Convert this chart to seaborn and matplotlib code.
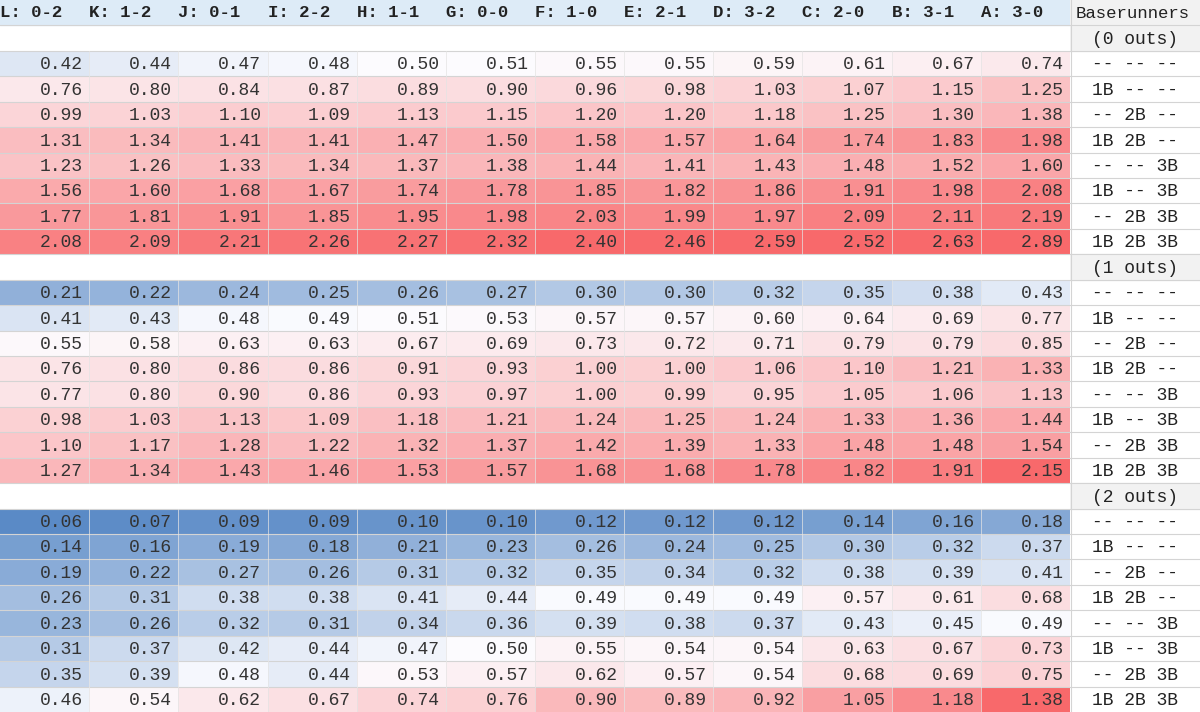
import numpy as np
import matplotlib
matplotlib.use("Agg")
import matplotlib.pyplot as plt
import seaborn as sns
from matplotlib.colors import LinearSegmentedColormap, TwoSlopeNorm

# column headers (count states)
counts = ["L: 0-2", "K: 1-2", "J: 0-1", "I: 2-2", "H: 1-1", "G: 0-0",
          "F: 1-0", "E: 2-1", "D: 3-2", "C: 2-0", "B: 3-1", "A: 3-0"]
runners = ["-- -- --", "1B -- --", "-- 2B --", "1B 2B --",
           "-- -- 3B", "1B -- 3B", "-- 2B 3B", "1B 2B 3B"]
out_labels = ["(0 outs)", "(1 outs)", "(2 outs)"]

outs0 = [
    [0.42, 0.44, 0.47, 0.48, 0.50, 0.51, 0.55, 0.55, 0.59, 0.61, 0.67, 0.74],
    [0.76, 0.80, 0.84, 0.87, 0.89, 0.90, 0.96, 0.98, 1.03, 1.07, 1.15, 1.25],
    [0.99, 1.03, 1.10, 1.09, 1.13, 1.15, 1.20, 1.20, 1.18, 1.25, 1.30, 1.38],
    [1.31, 1.34, 1.41, 1.41, 1.47, 1.50, 1.58, 1.57, 1.64, 1.74, 1.83, 1.98],
    [1.23, 1.26, 1.33, 1.34, 1.37, 1.38, 1.44, 1.41, 1.43, 1.48, 1.52, 1.60],
    [1.56, 1.60, 1.68, 1.67, 1.74, 1.78, 1.85, 1.82, 1.86, 1.91, 1.98, 2.08],
    [1.77, 1.81, 1.91, 1.85, 1.95, 1.98, 2.03, 1.99, 1.97, 2.09, 2.11, 2.19],
    [2.08, 2.09, 2.21, 2.26, 2.27, 2.32, 2.40, 2.46, 2.59, 2.52, 2.63, 2.89],
]
outs1 = [
    [0.21, 0.22, 0.24, 0.25, 0.26, 0.27, 0.30, 0.30, 0.32, 0.35, 0.38, 0.43],
    [0.41, 0.43, 0.48, 0.49, 0.51, 0.53, 0.57, 0.57, 0.60, 0.64, 0.69, 0.77],
    [0.55, 0.58, 0.63, 0.63, 0.67, 0.69, 0.73, 0.72, 0.71, 0.79, 0.79, 0.85],
    [0.76, 0.80, 0.86, 0.86, 0.91, 0.93, 1.00, 1.00, 1.06, 1.10, 1.21, 1.33],
    [0.77, 0.80, 0.90, 0.86, 0.93, 0.97, 1.00, 0.99, 0.95, 1.05, 1.06, 1.13],
    [0.98, 1.03, 1.13, 1.09, 1.18, 1.21, 1.24, 1.25, 1.24, 1.33, 1.36, 1.44],
    [1.10, 1.17, 1.28, 1.22, 1.32, 1.37, 1.42, 1.39, 1.33, 1.48, 1.48, 1.54],
    [1.27, 1.34, 1.43, 1.46, 1.53, 1.57, 1.68, 1.68, 1.78, 1.82, 1.91, 2.15],
]
outs2 = [
    [0.06, 0.07, 0.09, 0.09, 0.10, 0.10, 0.12, 0.12, 0.12, 0.14, 0.16, 0.18],
    [0.14, 0.16, 0.19, 0.18, 0.21, 0.23, 0.26, 0.24, 0.25, 0.30, 0.32, 0.37],
    [0.19, 0.22, 0.27, 0.26, 0.31, 0.32, 0.35, 0.34, 0.32, 0.38, 0.39, 0.41],
    [0.26, 0.31, 0.38, 0.38, 0.41, 0.44, 0.49, 0.49, 0.49, 0.57, 0.61, 0.68],
    [0.23, 0.26, 0.32, 0.31, 0.34, 0.36, 0.39, 0.38, 0.37, 0.43, 0.45, 0.49],
    [0.31, 0.37, 0.42, 0.44, 0.47, 0.50, 0.55, 0.54, 0.54, 0.63, 0.67, 0.73],
    [0.35, 0.39, 0.48, 0.44, 0.53, 0.57, 0.62, 0.57, 0.54, 0.68, 0.69, 0.75],
    [0.46, 0.54, 0.62, 0.67, 0.74, 0.76, 0.90, 0.89, 0.92, 1.05, 1.18, 1.38],
]
blocks = [outs0, outs1, outs2]
# colour scale top per block (conditional formatting was per block)
block_vmax = [2.4, 2.15, 1.38]

# sheet layout: header row, then per outs block a label row + 8 data rows
blank = [np.nan] * 12
rows = [blank]
right = ["Baserunners"]
block_id = [-1]
for b, (lab, block) in enumerate(zip(out_labels, blocks)):
    rows.append(blank)
    right.append(lab)
    block_id.append(-1)
    rows.extend(block)
    right.extend(runners)
    block_id.extend([b] * len(block))
grid = np.array(rows, dtype=float)
block_id = np.array(block_id)
nrows = grid.shape[0]

cmap = LinearSegmentedColormap.from_list("xl", ["#5A8AC6", "#FCFCFF", "#F8696B"])

mono = "Liberation Mono"
fig = plt.figure(figsize=(12, 7.12), dpi=100)
ax = fig.add_axes([0, 0, 1070 / 1200, 1])
for b in range(3):
    mask = np.repeat((block_id != b)[:, None], 12, axis=1)
    norm = TwoSlopeNorm(vmin=0.06, vcenter=0.5, vmax=block_vmax[b])
    sns.heatmap(grid, ax=ax, cmap=cmap, norm=norm, cbar=False, annot=False,
                mask=mask, xticklabels=False, yticklabels=False)
ax.set_ylim(nrows, 0)

# header band
ax.axhspan(0, 1, color="#DDEBF7", zorder=0.5)
for j, c in enumerate(counts):
    ax.text(j + 0.0, 0.5, c, ha="left", va="center", fontsize=12.5,
            family=mono, fontweight="bold", color="#222222")

for i in range(nrows):
    for j in range(12):
        v = grid[i, j]
        if not np.isnan(v):
            ax.text(j + 0.93, i + 0.55, f"{v:.2f}", ha="right", va="center",
                    fontsize=13, family=mono, color="#333333")
for i in range(1, nrows):
    ax.axhline(i, color="#D4D4D4", lw=0.8)
for i in range(nrows):
    if not np.isnan(grid[i, 0]):
        for j in range(1, 12):
            ax.plot([j, j], [i, i + 1], color="#E4E4E4", lw=0.5)

# baserunner column
ax2 = fig.add_axes([1070 / 1200, 0, 130 / 1200, 1])
ax2.set_xlim(0, 1)
ax2.set_ylim(nrows, 0)
ax2.axis("off")
for i, t in enumerate(right):
    if i == 0 or t.startswith("("):
        ax2.axhspan(i, i + 1, color="#F2F2F2", zorder=0)
    ax2.text(0.5 if i else 0.04, i + 0.55, t, ha="center" if i else "left",
             va="center", fontsize=13 if i else 12.5, family=mono, color="#222222")
    if i:
        ax2.axhline(i, color="#D4D4D4", lw=0.8)
ax2.axvline(0.005, color="#D4D4D4", lw=0.8)

fig.savefig("out.png", dpi=100)
